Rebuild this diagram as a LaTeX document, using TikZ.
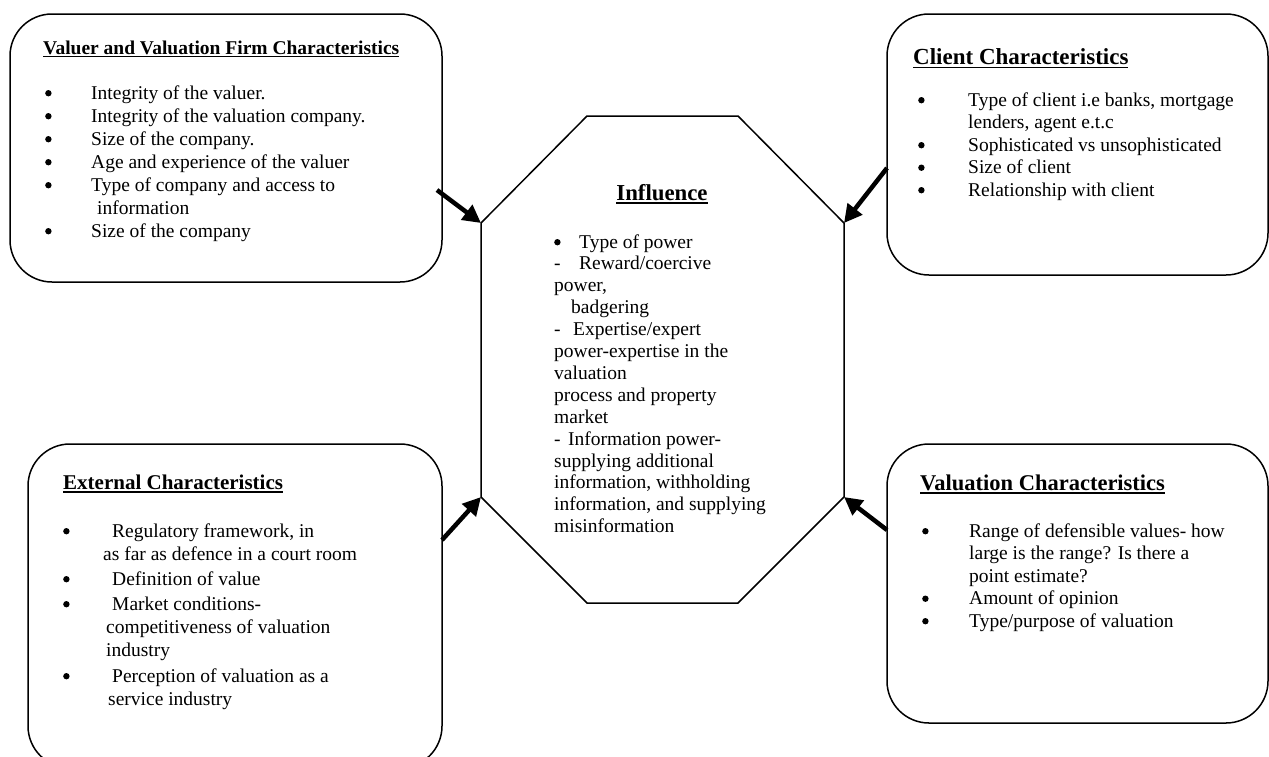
\documentclass[tikz,border=0pt]{standalone}
\usepackage{fontspec}
\setmainfont{Liberation Serif}
\usetikzlibrary{arrows.meta}
\newsavebox\ttlbox
\newcommand\ttlul[1]{\sbox\ttlbox{#1}\rlap{\rule[-0.17em]{\wd\ttlbox}{1.4pt}}\usebox\ttlbox}
\newcommand\bigbul{\raisebox{2.6pt}{\tikz\fill (0,0) circle[radius=3.2pt];}}
\newcommand\bl[1]{\makebox[#1][l]{\bigbul}}
\newcommand\dsh[1]{\makebox[#1][l]{-}}
\tikzset{
  box/.style={draw, line width=1.5pt, rounded corners=42pt, inner sep=0pt},
  oct/.style={draw, line width=1.5pt, line join=miter},
  arr/.style={line width=4.5pt, -{Triangle[length=18pt,width=18pt]}},
  ttl/.style={anchor=base west, inner sep=0pt},
  body/.style={anchor=base west, inner sep=0pt, align=left},
}
\begin{document}
\begin{tikzpicture}[x=1pt,y=-1pt]
\useasboundingbox (0,0) rectangle (1269,756);
\clip (0,0) rectangle (1269,756);

% boxes
\node[box, minimum width=432pt, minimum height=268pt] (vbox) at (226,148) {};
\node[box, minimum width=381pt, minimum height=261pt] (cbox) at (1077.5,144.5) {};
\node[box, minimum width=414pt, minimum height=324pt] (ebox) at (235,606) {};
\node[box, minimum width=381pt, minimum height=279pt] (qbox) at (1077.5,583.5) {};

% octagon
\coordinate (o1) at (587,116);
\coordinate (o2) at (738,116);
\coordinate (o3) at (844,223);
\coordinate (o4) at (844,497);
\coordinate (o5) at (738,603);
\coordinate (o6) at (587,603);
\coordinate (o7) at (481,497);
\coordinate (o8) at (481,223);
\draw[oct] (o1) -- (o2) -- (o3) -- (o4) -- (o5) -- (o6) -- (o7) -- (o8) -- cycle;

% titles
\node[ttl, font=\fontsize{19.5pt}{23pt}\selectfont\bfseries] (vttl) at (43,54) {\ttlul{Valuer and Valuation Firm Characteristics}};
\node[ttl, font=\fontsize{23pt}{27pt}\selectfont\bfseries] (cttl) at (913,64) {\ttlul{Client Characteristics}};
\node[ttl, font=\fontsize{21pt}{25pt}\selectfont\bfseries] (ettl) at (63,489) {\ttlul{External Characteristics}};
\node[ttl, font=\fontsize{22.5pt}{26pt}\selectfont\bfseries] (qttl) at (920,490) {\ttlul{Valuation Characteristics}};
\node[anchor=base, inner sep=0pt, font=\fontsize{22.8pt}{26pt}\selectfont\bfseries] (ittl) at (662,200) {\ttlul{Influence}};

% lists
\node[body, font=\fontsize{19.5pt}{23pt}\selectfont] (vlist) at (45,99) {\begin{tabular}[t]{@{}l@{}}
\bl{46pt}Integrity of the valuer.\\
\bl{46pt}Integrity of the valuation company.\\
\bl{46pt}Size of the company.\\
\bl{46pt}Age and experience of the valuer\\
\bl{46pt}Type of company and access to\\
\hspace*{52pt}information\\
\bl{46pt}Size of the company
\end{tabular}};

\node[body, font=\fontsize{19.5pt}{22.5pt}\selectfont] (clist) at (918,106) {\begin{tabular}[t]{@{}l@{}}
\bl{50pt}Type of client i.e banks, mortgage\\
\hspace*{50pt}lenders, agent e.t.c\\
\bl{50pt}Sophisticated vs unsophisticated\\
\bl{50pt}Size of client\\
\bl{50pt}Relationship with client
\end{tabular}};

\node[body, font=\fontsize{19.5pt}{23pt}\selectfont] (elist) at (63,537) {\begin{tabular}[t]{@{}l@{}}
\bl{49pt}Regulatory framework, in\\
\hspace*{40pt}as far as defence in a court room\\[2pt]
\bl{49pt}Definition of value\\[2pt]
\bl{49pt}Market conditions-\\
\hspace*{43pt}competitiveness of valuation\\
\hspace*{43pt}industry\\[3pt]
\bl{49pt}Perception of valuation as a\\
\hspace*{45pt}service industry
\end{tabular}};

\node[body, font=\fontsize{19.5pt}{22.5pt}\selectfont] (qlist) at (922,537) {\begin{tabular}[t]{@{}l@{}}
\bl{47pt}Range of defensible values- how\\
\hspace*{47pt}large is the range? Is there a\\
\hspace*{47pt}point estimate?\\
\bl{47pt}Amount of opinion\\
\bl{47pt}Type/purpose of valuation
\end{tabular}};

\node[body, font=\fontsize{19.5pt}{21.9pt}\selectfont] (ilist) at (554,248) {\begin{tabular}[t]{@{}l@{}}
\bl{25pt}Type of power\\
\dsh{25pt}Reward/coercive\\
power,\\
\hspace*{17pt}badgering\\
\dsh{19pt}Expertise/expert\\
power-expertise in the\\
valuation\\
process and property\\
market\\
\dsh{14pt}Information power-\\
supplying additional\\
information, withholding\\
information, and supplying\\
misinformation
\end{tabular}};

% arrows
\coordinate (a1) at (437,190);
\coordinate (a2) at (887,168);
\coordinate (a3) at (442,540);
\coordinate (a4) at (887,530);
\draw[arr] (a1) -- (o8);
\draw[arr] (a2) -- (o3);
\draw[arr] (a3) -- (o7);
\draw[arr] (a4) -- (o4);
\end{tikzpicture}
\end{document}
